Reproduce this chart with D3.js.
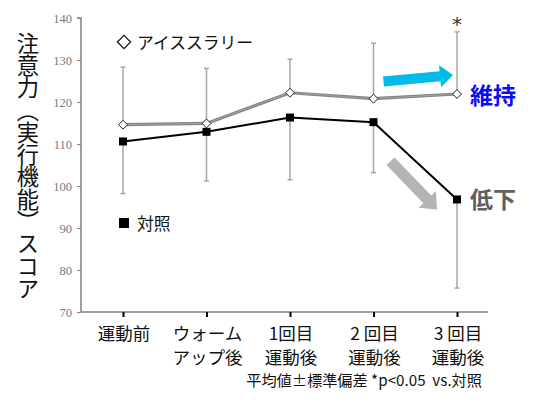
<!DOCTYPE html>
<html>
<head>
<meta charset="utf-8">
<script src="https://cdn.jsdelivr.net/npm/d3@7"></script>
<style>
  body { margin: 0; background: #fff; }
  svg { display: block; }
</style>
</head>
<body>
<svg id="chart" width="535" height="408"></svg>
<script>
// data
const categories = ["運動前", "ウォームアップ後", "1回目運動後", "2回目運動後", "3回目運動後"];
const catLines = [["運動前"], ["ウォーム", "アップ後"], ["1回目", "運動後"], ["2 回目", "運動後"], ["3 回目", "運動後"]];
const slurryMean = [114.6, 114.9, 122.2, 120.8, 121.9];
const slurrySdUp = [13.7, 13.1, 8.0, 13.2, 14.8];
const controlMean = [110.6, 112.9, 116.3, 115.2, 96.8];
const controlSdDown = [12.4, 11.7, 14.8, 12.0, 21.1];
const yTicks = [70, 80, 90, 100, 110, 120, 130, 140];

const jp = "'Noto Sans CJK JP', 'Noto Sans', sans-serif";
const svg = d3.select("#chart");

const x = d3.scalePoint().domain(categories).range([123, 457]);
const y = d3.scaleLinear().domain([70, 140]).range([312, 18]);

// y axis
const yAxis = svg.append("g")
  .attr("transform", "translate(81,0)")
  .call(d3.axisLeft(y).tickValues(yTicks).tickSize(4).tickPadding(5));
yAxis.select(".domain").attr("stroke", "#808080").attr("stroke-width", 1.5).attr("d", "M-4,18H0V312");
yAxis.selectAll(".tick line").attr("stroke", "#808080");
yAxis.selectAll(".tick text")
  .attr("fill", "#7a7a7a")
  .attr("font-family", "'Liberation Serif', 'Times New Roman', serif")
  .attr("font-size", 12.5);

// x axis
const xAxis = svg.append("g")
  .attr("transform", "translate(0,312)")
  .call(d3.axisBottom(x).tickSize(5).tickFormat(""));
xAxis.select(".domain").attr("stroke", "#808080").attr("stroke-width", 1.5).attr("d", "M81,0H488");
xAxis.selectAll(".tick line").attr("stroke", "#000").attr("stroke-width", 2);

// category labels (two lines)
const lab = svg.append("g").attr("font-family", jp).attr("font-size", 17.5).attr("fill", "#111");
categories.forEach((c, i) => {
  catLines[i].forEach((t, j) => {
    lab.append("text")
      .attr("x", x(c) + 1)
      .attr("y", 340 + j * 24)
      .attr("text-anchor", "middle")
      .text(t);
  });
});

// error bars
const eb = svg.append("g").attr("stroke", "#a6a6a6").attr("stroke-width", 1.5);
categories.forEach((c, i) => {
  const cx = x(c);
  const top = y(slurryMean[i] + slurrySdUp[i]);
  const bot = y(controlMean[i] - controlSdDown[i]);
  eb.append("line").attr("x1", cx).attr("x2", cx).attr("y1", y(slurryMean[i])).attr("y2", top);
  eb.append("line").attr("x1", cx - 2.5).attr("x2", cx + 2.5).attr("y1", top).attr("y2", top);
  eb.append("line").attr("x1", cx).attr("x2", cx).attr("y1", y(controlMean[i])).attr("y2", bot);
  eb.append("line").attr("x1", cx - 2.5).attr("x2", cx + 2.5).attr("y1", bot).attr("y2", bot);
});

// lines
const line = d3.line().x((d, i) => x(categories[i])).y(d => y(d));
svg.append("path").datum(slurryMean)
  .attr("fill", "none").attr("stroke", "#858585").attr("stroke-width", 3.2).attr("d", line);
svg.append("path").datum(slurryMean)
  .attr("fill", "none").attr("stroke", "#a0a0a0").attr("stroke-width", 1).attr("d", line);
svg.append("path").datum(controlMean)
  .attr("fill", "none").attr("stroke", "#000").attr("stroke-width", 2).attr("d", line);

// markers
svg.selectAll(".sq").data(controlMean).enter().append("rect")
  .attr("x", (d, i) => x(categories[i]) - 4)
  .attr("y", d => y(d) - 4)
  .attr("width", 8).attr("height", 8)
  .attr("fill", "#000");
const diamond = d3.symbol().type(d3.symbolDiamond2).size(50);
svg.selectAll(".dm").data(slurryMean).enter().append("path")
  .attr("transform", (d, i) => `translate(${x(categories[i])},${y(d)})`)
  .attr("d", diamond)
  .attr("fill", "#fff").attr("stroke", "#222").attr("stroke-width", 1);

// significance mark
svg.append("text")
  .attr("x", x(categories[4])).attr("y", y(136.7) - 1)
  .attr("text-anchor", "middle")
  .attr("font-family", "'DejaVu Sans', sans-serif")
  .attr("font-size", 20).attr("fill", "#333")
  .text("*");

// legends
svg.append("path")
  .attr("transform", "translate(124,42)")
  .attr("d", d3.symbol().type(d3.symbolDiamond2).size(110)())
  .attr("fill", "#fff").attr("stroke", "#111").attr("stroke-width", 1.2);
svg.append("text").attr("x", 137).attr("y", 48.5)
  .attr("font-family", jp).attr("font-size", 16.8).attr("fill", "#111")
  .text("アイススラリー");
svg.append("rect").attr("x", 119).attr("y", 218).attr("width", 10).attr("height", 10).attr("fill", "#000");
svg.append("text").attr("x", 137).attr("y", 229.5)
  .attr("font-family", jp).attr("font-size", 16.8).attr("fill", "#111")
  .text("対照");

// arrows
function arrow(x1, y1, x2, y2, w, hw, hl) {
  const a = Math.atan2(y2 - y1, x2 - x1);
  const len = Math.hypot(x2 - x1, y2 - y1);
  const pts = [[0, -w / 2], [len - hl, -w / 2], [len - hl, -hw / 2], [len, 0], [len - hl, hw / 2], [len - hl, w / 2], [0, w / 2]];
  return pts.map(([px, py]) => [x1 + px * Math.cos(a) - py * Math.sin(a), y1 + px * Math.sin(a) + py * Math.cos(a)]);
}
svg.append("polygon")
  .attr("points", arrow(x(categories[3]) + 10, y(124.9), x(categories[4]) - 4, y(126.4), 10, 22, 13).join(" "))
  .attr("fill", "#00bbea");
svg.append("polygon")
  .attr("points", arrow(x(categories[3]) + 17, y(105.9), x(categories[4]) - 20, y(94.4), 11, 24, 14).join(" "))
  .attr("fill", "#b4b4b4");

svg.append("text").attr("x", 470).attr("y", 104)
  .attr("font-family", jp).attr("font-weight", 700).attr("font-size", 23).attr("fill", "#0a0aff")
  .text("維持");
svg.append("text").attr("x", 470).attr("y", 208)
  .attr("font-family", jp).attr("font-weight", 700).attr("font-size", 23).attr("fill", "#5f5f5f")
  .text("低下");

// y axis title, vertical
svg.append("text")
  .attr("transform", "translate(28,32)")
  .attr("writing-mode", "vertical-rl")
  .attr("font-family", jp).attr("font-size", 22.3).attr("fill", "#111")
  .text("注意力（実行機能）スコア");

// footnote
svg.append("text").attr("x", 482).attr("y", 386)
  .attr("text-anchor", "end")
  .attr("font-family", jp).attr("font-size", 15.2).attr("fill", "#111")
  .attr("xml:space", "preserve")
  .text("平均値±標準偏差 *p<0.05  vs.対照");
</script>
</body>
</html>
